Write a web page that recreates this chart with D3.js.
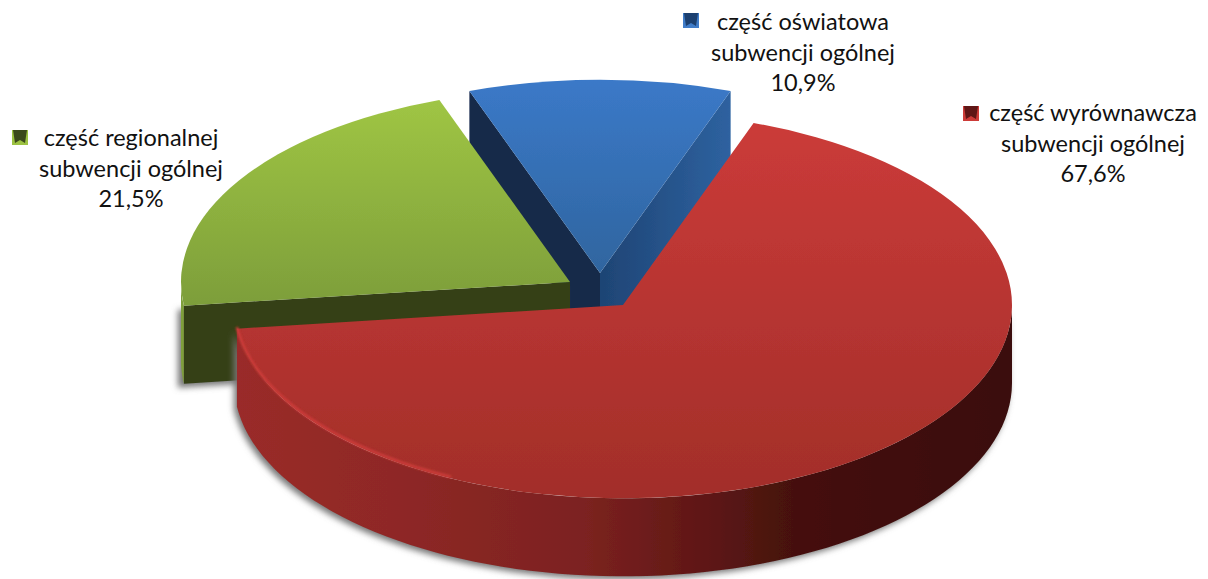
<!DOCTYPE html>
<html>
<head>
<meta charset="utf-8">
<script src="https://cdn.jsdelivr.net/npm/d3@7"></script>
<style>
	html, body { margin: 0; padding: 0; background: #fff; }
	svg { display: block; }
	text { font-family: Lato, "Open Sans", sans-serif; font-size: 23.5px; fill: #111; text-anchor: middle; }
</style>
</head>
<body>
<div id="chart"></div>
<script>
// order is the one of the pie, clockwise from the blue slice
var categories = ["część oświatowa", "część wyrównawcza", "część regionalnej"];
var categoryTail = "subwencji ogólnej";
var values = [10.9, 67.6, 21.5];
var valueLabels = ["10,9%", "67,6%", "21,5%"];

var width = 1208,
	height = 579,
	radius = 389,
	depth = 78,
	tilt = 0.497,
	firstAngle = -19.62 * Math.PI / 180;

// where each exploded slice ends up and where its label goes
var centers = [[600, 273], [623, 305], [570, 282]];
var labelPos = [[803, 30], [1093, 121], [131, 146]];
var swatchPos = [[683, 13], [963, 106], [12, 130]];

var topColors = [["#3b79c8", "#2f659f"], ["#cb3b39", "#a22e29"], ["#9fc544", "#7d9e3a"]];
var sideColors = ["#2a5a94", "#7f2422", "#7f9f3b"];
var swatchColors = [["#1d4170", "#3f7cc8"], ["#5e1614", "#cc3a38"], ["#3b4a1c", "#9cc242"]];

var svg = d3.select("#chart").append("svg")
	.attr("width", width)
	.attr("height", height);
var defs = svg.append("defs");

var pie = d3.pie()
	.sort(null)
	.startAngle(firstAngle)
	.endAngle(firstAngle + 2 * Math.PI)
	.value(function(d) { return d; });
var slices = pie(values);

var arc = d3.arc().innerRadius(0).outerRadius(radius);
var line = d3.line();

function vgrad(id, c) {
	var g = defs.append("linearGradient").attr("id", id)
		.attr("x1", 0).attr("y1", 0).attr("x2", 0).attr("y2", 1);
	g.append("stop").attr("offset", "0").attr("stop-color", c[0]);
	g.append("stop").attr("offset", "1").attr("stop-color", c[1]);
}
topColors.forEach(function(c, i) { vgrad("top" + i, c); });

// outer wall of the red slice gets darker to the right
var redSide = defs.append("linearGradient").attr("id", "redSide")
	.attr("gradientUnits", "userSpaceOnUse")
	.attr("x1", 234).attr("y1", 0).attr("x2", 1012).attr("y2", 0);
[[0, "#9a2b29"], [0.2, "#8f2826"], [0.45, "#7c2220"], [0.62, "#5c1614"], [0.72, "#45110e"], [1, "#3a0e0b"]].forEach(function(s) {
	redSide.append("stop").attr("offset", s[0]).attr("stop-color", s[1]);
});
var blueSide = defs.append("linearGradient").attr("id", "blueSide")
	.attr("x1", 0).attr("y1", 0).attr("x2", 1).attr("y2", 0);
blueSide.append("stop").attr("offset", "0").attr("stop-color", "#1e4474");
blueSide.append("stop").attr("offset", "1").attr("stop-color", "#2e62a0");

var blur = defs.append("filter").attr("id", "shadow")
	.attr("x", "-5%").attr("y", "-5%").attr("width", "110%").attr("height", "115%");
blur.append("feGaussianBlur").attr("stdDeviation", 3);

var soft = defs.append("filter").attr("id", "soft")
	.attr("x", "-5%").attr("y", "-5%").attr("width", "110%").attr("height", "110%");
soft.append("feGaussianBlur").attr("stdDeviation", 0.8);

// the picture is a slightly washed out scan, edges are not crisp
var edge = defs.append("filter").attr("id", "edge")
	.attr("x", "-3%").attr("y", "-3%").attr("width", "106%").attr("height", "106%");
edge.append("feGaussianBlur").attr("stdDeviation", 0.6);

function rimPoint(i, a, dy) {
	return [centers[i][0] + radius * Math.sin(a),
		centers[i][1] - radius * tilt * Math.cos(a) + (dy || 0)];
}

// band along the rim between two angles, pushed down by the pie depth
function wallPath(i, a0, a1) {
	var n = 80;
	var top = d3.range(n + 1).map(function(k) { return rimPoint(i, a0 + (a1 - a0) * k / n); });
	var bottom = top.map(function(p) { return [p[0], p[1] + depth]; }).reverse();
	return line(top.concat(bottom)) + "Z";
}

// flat cut face from the tip of the slice to the rim
function cutPath(i, a) {
	var c = centers[i];
	var r = rimPoint(i, a);
	return line([c, r, [r[0], r[1] + depth], [c[0], c[1] + depth]]) + "Z";
}

function topFace(g, i, d) {
	g.append("path")
		.attr("transform", "translate(" + centers[i] + ") scale(1," + tilt + ")")
		.attr("d", arc(d))
		.style("fill", "url(#top" + i + ")");
}

var blue = slices[0], red = slices[1], green = slices[2];
var front = Math.PI / 2, back = 3 * Math.PI / 2;

// blue goes first, the others overlap it
var gBlue = svg.append("g").attr("filter", "url(#edge)");
gBlue.append("path").attr("d", cutPath(0, blue.startAngle)).style("fill", "#12294a");
gBlue.append("path").attr("d", cutPath(0, blue.endAngle)).style("fill", "url(#blueSide)");
topFace(gBlue, 0, blue);

// green
svg.append("path")
	.attr("d", cutPath(2, green.startAngle))
	.attr("transform", "translate(-6,4)")
	.attr("filter", "url(#shadow)")
	.style("fill", "#777");
var gGreen = svg.append("g").attr("filter", "url(#edge)");
gGreen.append("path").attr("d", wallPath(2, green.startAngle, back)).style("fill", sideColors[2]);
gGreen.append("path").attr("d", cutPath(2, green.startAngle)).style("fill", "#343f19");
topFace(gGreen, 2, green);

// red
svg.append("path")
	.attr("d", wallPath(1, front, red.endAngle))
	.attr("transform", "translate(-3,3)")
	.attr("filter", "url(#shadow)")
	.style("fill", "#777");
var gRed = svg.append("g").attr("filter", "url(#edge)");
gRed.append("path").attr("d", wallPath(1, front, red.endAngle)).style("fill", "url(#redSide)");
topFace(gRed, 1, red);
// light edge on the left part of the rim
gRed.append("path")
	.attr("d", line(d3.range(41).map(function(k) {
		return rimPoint(1, red.endAngle - (red.endAngle - 3.6) * k / 40, -1.5);
	})))
	.attr("filter", "url(#soft)")
	.style("fill", "none")
	.style("stroke", "#cf3d3b")
	.style("stroke-width", 2.5);

// labels
var labels = svg.selectAll(".label")
	.data(categories)
	.enter().append("text")
	.attr("class", "label")
	.attr("transform", function(d, i) { return "translate(" + labelPos[i] + ")"; });
labels.append("tspan").attr("x", 0).attr("y", 0).text(function(d) { return d; });
labels.append("tspan").attr("x", 0).attr("y", 30.5).text(categoryTail);
labels.append("tspan").attr("x", 0).attr("y", 61).text(function(d, i) { return valueLabels[i]; });

// small bevelled legend squares
var sw = 16;
var swatches = svg.selectAll(".swatch")
	.data(swatchColors)
	.enter().append("g")
	.attr("class", "swatch")
	.attr("filter", "url(#edge)")
	.attr("transform", function(d, i) { return "translate(" + swatchPos[i] + ")"; });
swatches.append("rect")
	.attr("width", sw)
	.attr("height", sw - 1)
	.style("fill", function(d) { return d[1]; });
swatches.append("path")
	.attr("d", line([[1, 0], [sw - 1, 0], [sw - 3, sw - 3], [sw / 2, sw / 2 + 2], [3, sw - 3]]) + "Z")
	.style("fill", function(d) { return d[0]; });
</script>
</body>
</html>
